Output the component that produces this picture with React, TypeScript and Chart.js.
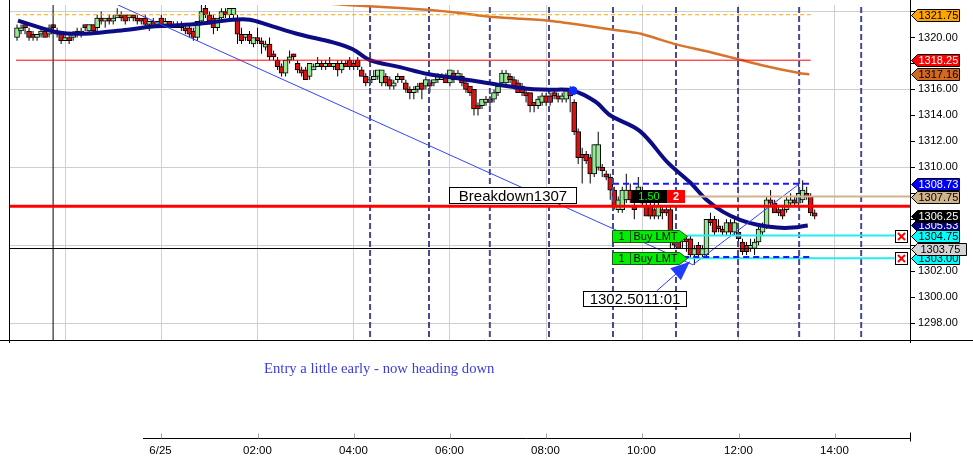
import React, { useEffect, useRef } from 'react';
import { Chart, registerables } from 'chart.js';

Chart.register(...registerables);

// ---------- axes ----------
const X_MIN = -3.146; // hours relative to 6/25 00:00
const X_MAX = 15.565;
const Y_MIN = 1296.63;
const Y_MAX = 1322.5;
const TIME_GRID = [-2, 0, 2, 4, 6, 8, 10, 12, 14];
const TIME_TICKS = [0, 2, 4, 6, 8, 10, 12, 14];
const TIME_LABELS = ['6/25', '02:00', '04:00', '06:00', '08:00', '10:00', '12:00', '14:00'];
const PRICE_TICKS = [1298, 1300, 1302, 1304, 1306, 1308, 1310, 1312, 1314, 1316, 1318, 1320, 1322];
const PRICE_LABELLED = [1298, 1300, 1302, 1304, 1306, 1308, 1310, 1312, 1314, 1316, 1318, 1320];
const PRICE_GRID = [1298, 1304, 1310, 1316, 1322];

// ---------- 5-minute candles, first bar 6/24 21:00 ----------
const FIRST_BAR_HOUR = -3;
const BAR_HOURS = 5 / 60;
const OPEN = [
  1320.0, 1320.5, 1321.0, 1320.5, 1320.25, 1320.0, 1320.25, 1320.5, 1320.25, 1321.0,
  1320.25, 1320.25, 1319.75, 1320.0, 1320.0, 1320.5, 1320.25, 1321.0, 1320.5, 1321.0,
  1320.75, 1321.5, 1321.25, 1321.5, 1321.25, 1321.5, 1321.75, 1321.75, 1321.5, 1321.75,
  1321.5, 1321.5, 1321.5, 1321.0, 1321.25, 1321.0, 1321.5, 1321.0, 1321.25, 1321.0,
  1320.75, 1321.0, 1320.75, 1320.75, 1320.5, 1320.0, 1321.25, 1322.25, 1321.75, 1321.5,
  1320.75, 1321.5, 1322.0, 1321.75, 1321.75, 1321.5, 1320.25, 1320.0, 1320.25, 1319.5,
  1320.0, 1319.75, 1319.25, 1319.5, 1318.75, 1318.25, 1317.75, 1317.25, 1318.25, 1318.75,
  1318.0, 1317.5, 1317.5, 1317.0, 1317.5, 1317.75, 1318.0, 1317.75, 1318.0, 1317.75,
  1318.0, 1317.5, 1318.0, 1318.25, 1318.0, 1318.25, 1317.5, 1317.0, 1316.5, 1316.75,
  1317.0, 1316.5, 1317.0, 1316.75, 1316.25, 1316.75, 1317.0, 1316.5, 1316.0, 1315.75,
  1316.0, 1316.5, 1316.25, 1316.5, 1316.5, 1316.75, 1316.75, 1317.0, 1316.5, 1317.25,
  1317.0, 1317.0, 1316.5, 1316.25, 1316.0, 1314.75, 1314.75, 1315.0, 1315.25, 1315.25,
  1315.75, 1316.5, 1316.5, 1317.0, 1316.75, 1316.5, 1316.25, 1315.75, 1315.75, 1315.0,
  1314.75, 1315.0, 1315.5, 1315.5, 1315.75, 1315.5, 1315.25, 1315.25, 1316.0, 1315.0,
  1312.75, 1311.0, 1311.0, 1310.75, 1309.5, 1310.0, 1310.0, 1309.5, 1309.25, 1308.25,
  1306.75, 1306.75, 1307.5, 1308.25, 1307.0, 1308.0, 1308.25, 1307.0, 1307.0, 1306.75,
  1306.25, 1306.75, 1306.75, 1306.75, 1304.75, 1304.25, 1304.25, 1304.5, 1304.5, 1303.25,
  1304.0, 1303.25, 1303.25, 1306.0, 1306.0, 1305.5, 1305.25, 1305.0, 1305.75, 1305.0,
  1305.0, 1304.25, 1304.0, 1303.75, 1303.75, 1304.25, 1305.0, 1305.5, 1307.5, 1307.25,
  1306.75, 1306.75, 1306.75, 1307.25, 1307.5, 1307.25, 1307.5, 1308.0, 1307.75, 1306.5,
];
const HIGH = [
  1321.0, 1321.0, 1321.25, 1320.75, 1320.5, 1320.25, 1320.75, 1320.75, 1321.0, 1321.0,
  1320.75, 1320.5, 1320.25, 1320.25, 1320.5, 1320.75, 1320.75, 1321.0, 1321.0, 1321.0,
  1321.75, 1322.0, 1321.5, 1321.75, 1321.75, 1322.25, 1322.0, 1321.75, 1321.75, 1321.75,
  1321.75, 1321.5, 1321.75, 1321.25, 1321.5, 1321.25, 1321.75, 1321.5, 1321.25, 1321.25,
  1321.25, 1321.25, 1321.0, 1321.0, 1320.75, 1321.25, 1322.5, 1322.5, 1322.0, 1321.75,
  1321.5, 1322.25, 1322.25, 1322.25, 1322.25, 1321.75, 1320.75, 1320.25, 1320.5, 1320.0,
  1320.75, 1320.0, 1319.75, 1320.0, 1319.0, 1318.5, 1318.0, 1318.25, 1319.0, 1318.75,
  1318.25, 1317.75, 1317.75, 1318.0, 1318.0, 1318.5, 1318.25, 1318.25, 1318.5, 1318.0,
  1318.25, 1318.25, 1318.25, 1318.5, 1318.25, 1318.5, 1317.75, 1317.25, 1317.0, 1317.5,
  1317.5, 1317.5, 1317.25, 1317.0, 1316.75, 1317.25, 1317.0, 1316.75, 1316.25, 1316.25,
  1316.5, 1316.5, 1317.0, 1316.75, 1316.75, 1317.25, 1317.25, 1317.25, 1317.5, 1317.5,
  1317.5, 1317.25, 1316.75, 1316.25, 1316.0, 1315.0, 1315.25, 1315.5, 1315.5, 1316.0,
  1316.25, 1317.5, 1317.5, 1317.25, 1317.0, 1316.75, 1316.5, 1316.0, 1315.75, 1315.0,
  1315.5, 1315.75, 1315.75, 1315.75, 1316.0, 1315.75, 1315.75, 1316.0, 1316.25, 1315.25,
  1313.0, 1311.5, 1311.25, 1311.0, 1311.75, 1312.75, 1310.25, 1309.75, 1309.5, 1308.5,
  1307.75, 1308.5, 1309.5, 1308.75, 1307.5, 1309.25, 1308.5, 1307.5, 1307.75, 1307.25,
  1307.25, 1307.0, 1307.0, 1307.0, 1305.0, 1304.5, 1304.5, 1304.75, 1304.75, 1304.0,
  1304.25, 1304.0, 1306.0, 1306.5, 1306.25, 1306.0, 1305.5, 1306.0, 1306.0, 1306.0,
  1305.25, 1304.5, 1304.25, 1304.5, 1304.5, 1305.5, 1305.75, 1307.75, 1308.25, 1307.5,
  1307.0, 1307.0, 1307.75, 1308.0, 1307.75, 1308.75, 1309.0, 1308.5, 1308.0, 1306.75,
];
const LOW = [
  1319.75, 1320.25, 1320.25, 1319.75, 1319.75, 1319.75, 1320.0, 1320.0, 1320.0, 1320.5,
  1320.0, 1319.5, 1319.75, 1319.5, 1319.75, 1320.0, 1320.0, 1320.5, 1320.25, 1320.25,
  1320.5, 1321.0, 1320.75, 1321.0, 1321.0, 1321.5, 1321.25, 1321.0, 1321.25, 1321.25,
  1321.0, 1321.0, 1320.75, 1320.5, 1321.0, 1320.75, 1320.75, 1320.75, 1320.75, 1320.75,
  1320.75, 1320.5, 1320.25, 1320.0, 1319.75, 1319.75, 1321.0, 1321.5, 1321.0, 1320.25,
  1320.5, 1321.25, 1321.5, 1321.5, 1321.5, 1319.5, 1319.5, 1319.75, 1319.5, 1319.25,
  1319.5, 1318.75, 1319.0, 1318.25, 1318.25, 1317.5, 1317.0, 1317.0, 1318.0, 1318.25,
  1317.25, 1317.0, 1316.75, 1316.75, 1317.5, 1317.75, 1317.5, 1317.5, 1317.75, 1317.5,
  1317.0, 1317.25, 1317.75, 1317.5, 1317.5, 1317.5, 1317.0, 1316.25, 1316.25, 1316.75,
  1316.75, 1316.25, 1316.25, 1316.0, 1316.0, 1316.5, 1316.5, 1315.75, 1315.25, 1315.25,
  1315.75, 1315.25, 1316.0, 1315.75, 1316.25, 1316.5, 1316.75, 1316.5, 1316.25, 1316.5,
  1316.75, 1316.25, 1315.75, 1315.5, 1314.0, 1314.0, 1314.5, 1314.75, 1314.75, 1315.0,
  1315.5, 1316.25, 1316.25, 1316.5, 1316.0, 1315.75, 1315.5, 1315.0, 1314.25, 1314.25,
  1314.5, 1314.75, 1314.75, 1314.75, 1315.25, 1315.0, 1315.0, 1315.0, 1314.25, 1312.5,
  1310.25, 1308.75, 1310.25, 1308.75, 1309.25, 1309.75, 1309.25, 1309.0, 1307.5, 1306.75,
  1306.5, 1306.5, 1307.25, 1307.25, 1306.0, 1307.5, 1307.0, 1306.25, 1306.0, 1306.0,
  1306.0, 1306.0, 1306.25, 1303.75, 1303.75, 1303.75, 1303.75, 1303.5, 1303.0, 1302.5,
  1303.0, 1303.0, 1303.0, 1305.5, 1304.75, 1305.0, 1304.75, 1304.75, 1304.75, 1304.75,
  1304.25, 1303.25, 1303.25, 1303.5, 1303.25, 1304.0, 1304.75, 1305.25, 1307.0, 1306.5,
  1306.25, 1306.0, 1306.5, 1307.0, 1307.0, 1307.0, 1307.25, 1307.5, 1306.25, 1306.0,
];
const CLOSE = [
  1320.75, 1320.75, 1320.75, 1320.0, 1320.0, 1320.25, 1320.5, 1320.0, 1320.75, 1320.75,
  1320.5, 1319.75, 1320.0, 1319.75, 1320.25, 1320.25, 1320.5, 1320.75, 1321.0, 1320.5,
  1321.5, 1321.25, 1321.5, 1321.25, 1321.5, 1321.75, 1321.5, 1321.25, 1321.75, 1321.5,
  1321.25, 1321.25, 1321.0, 1321.25, 1321.0, 1321.25, 1321.0, 1321.25, 1321.0, 1320.75,
  1321.0, 1320.75, 1320.5, 1320.25, 1320.0, 1321.25, 1322.0, 1321.75, 1321.25, 1320.75,
  1321.5, 1322.0, 1321.75, 1322.25, 1322.25, 1320.25, 1319.75, 1320.25, 1319.75, 1320.0,
  1319.75, 1319.5, 1319.5, 1318.5, 1318.5, 1317.75, 1317.25, 1318.25, 1318.5, 1318.5,
  1317.5, 1317.25, 1316.75, 1318.0, 1317.75, 1318.0, 1317.75, 1318.0, 1317.75, 1318.0,
  1317.5, 1318.0, 1317.75, 1317.75, 1317.75, 1317.75, 1317.0, 1316.5, 1316.75, 1317.0,
  1317.5, 1317.5, 1316.5, 1316.25, 1316.5, 1317.0, 1316.75, 1316.0, 1315.75, 1316.0,
  1316.25, 1316.0, 1316.75, 1316.25, 1316.75, 1317.0, 1317.0, 1316.5, 1317.5, 1316.75,
  1317.25, 1316.5, 1316.0, 1315.75, 1314.5, 1314.5, 1315.25, 1315.25, 1315.0, 1315.75,
  1316.25, 1317.25, 1317.25, 1316.75, 1316.25, 1315.75, 1315.75, 1315.5, 1314.75, 1314.75,
  1315.25, 1315.5, 1315.0, 1315.0, 1315.5, 1315.25, 1315.5, 1316.0, 1315.5, 1312.75,
  1310.75, 1310.75, 1310.5, 1309.5, 1311.75, 1311.75, 1309.75, 1309.25, 1308.25, 1307.0,
  1307.5, 1308.25, 1308.25, 1307.5, 1306.75, 1308.5, 1307.25, 1306.25, 1306.25, 1306.25,
  1307.0, 1306.5, 1306.5, 1305.0, 1304.0, 1303.75, 1304.5, 1304.25, 1303.25, 1303.75,
  1303.25, 1303.75, 1306.0, 1305.75, 1305.0, 1305.25, 1305.0, 1305.75, 1305.0, 1305.75,
  1304.5, 1303.5, 1303.5, 1304.0, 1304.25, 1305.25, 1305.5, 1307.5, 1307.25, 1306.5,
  1306.5, 1306.25, 1307.5, 1307.5, 1307.25, 1308.0, 1308.25, 1307.75, 1306.5, 1306.25,
];

// ---------- moving averages ----------
const FAST_MA_T = [-2.98, -2.52, -2.25, -1.96, -1.48, -1.06, -0.65, -0.23, 0.18, 0.8, 1.49, 1.84, 2.2, 2.88, 3.57, 3.98, 4.34, 4.96, 5.54, 6.25, 6.88, 7.62, 8.06, 8.56, 9.02, 9.33, 9.95, 10.53, 10.99, 11.34, 11.68, 12.03, 12.39, 12.8, 13.13, 13.44];
const FAST_MA_P = [1321.29, 1320.76, 1320.46, 1320.3, 1320.3, 1320.46, 1320.61, 1320.83, 1320.91, 1321.06, 1321.37, 1321.37, 1320.99, 1320.23, 1319.62, 1319.09, 1318.25, 1317.72, 1317.19, 1316.81, 1316.43, 1316.05, 1315.98, 1315.9, 1315.07, 1314.01, 1312.79, 1310.36, 1308.85, 1307.48, 1306.57, 1305.96, 1305.58, 1305.36, 1305.36, 1305.53];
const SLOW_MA_T = [3.5, 3.86, 4.96, 5.59, 6.21, 6.83, 7.46, 8.06, 8.7, 9.39, 9.95, 10.7, 11.34, 11.99, 12.65, 13.26, 13.47];
const SLOW_MA_P = [1322.6, 1322.5, 1322.27, 1322.12, 1321.89, 1321.59, 1321.44, 1321.29, 1320.98, 1320.6, 1320.3, 1319.47, 1318.94, 1318.33, 1317.72, 1317.27, 1317.16];
const MA_DOT_T = [8.56];
const MA_DOT_P = [1315.9];

// ---------- drawn objects ----------
const TREND_T = [-0.9, 11.05, 13.27];
const TREND_P = [1322.5, 1302.5, 1308.75];
const CYCLE_TIMES = [4.34, 5.565, 6.83, 8.06, 9.39, 10.7, 11.99, 13.26, 14.55];
const CROSSHAIR_T = -2.25;
const CROSSHAIR_P = 1303.75;
const LEVEL_PRICES = [1321.75, 1318.25, 1307.0, 1307.75, 1303.75, 1308.73, 1303.1, 1304.75, 1303.0];
const LEVEL_FROM = [-3.02, -3.02, X_MIN, 10.87, X_MIN, 9.39, 10.85, 10.93, 10.93];
const LEVEL_TO = [13.5, 13.5, X_MAX, X_MAX, X_MAX, 13.49, 13.49, 15.25, 15.25];
const LEVEL_STYLE = [
  { c: '#ffa500', w: 1, d: [4, 3] },
  { c: '#ff0000', w: 1, d: [] },
  { c: '#ff0000', w: 3, d: [] },
  { c: '#d2b48c', w: 2, d: [] },
  { c: '#000000', w: 1, d: [] },
  { c: '#1a1aff', w: 2, d: [6, 4] },
  { c: '#1a1aff', w: 2, d: [6, 4] },
  { c: '#22eef0', w: 2, d: [] },
  { c: '#22eef0', w: 2, d: [] },
];
const ORDER_PRICES = [1304.75, 1303.0];
const ORDER_T = 9.37;
const ORDER_END_T = 15.25;
const POSITION_T = 9.765;
const POSITION_P = 1307.75;
const BREAKDOWN_T = 8.62;
const BREAKDOWN_P = 1307.0;
const LOW_T = 11.05;
const LOW_P = 1302.5;
const MARKER_PRICES = [1321.75, 1318.25, 1317.16, 1308.73, 1307.75, 1305.53, 1306.25, 1304.75, 1303.0, 1303.75];
const MARKER_FILL = ['#ffa500', '#ff0000', '#d2691e', '#0000ff', '#d2b48c', '#000080', '#000000', '#00ffff', '#00ffff', '#d3d3d3'];
const MARKER_TEXT = ['#000', '#fff', '#000', '#fff', '#000', '#fff', '#fff', '#000', '#000', '#000'];
const NOTE = 'Entry a little early - now heading down';

const SANS = 'Arial, "Liberation Sans", sans-serif';

function seg(ctx: any, x1: number, y1: number, x2: number, y2: number) {
  ctx.beginPath();
  ctx.moveTo(x1, y1);
  ctx.lineTo(x2, y2);
  ctx.stroke();
}

const decorPlugin = {
  id: 'decor',
  beforeDraw(chart: any) {
    const { ctx, width, height } = chart;
    ctx.save();
    ctx.fillStyle = '#ffffff';
    ctx.fillRect(0, 0, width, height);
    ctx.restore();
  },
  afterDraw(chart: any) {
    const { ctx, chartArea: a, width } = chart;
    const xs = chart.scales.x;
    const ys = chart.scales.y;
    const X = (t: number) => xs.getPixelForValue(t);
    const Y = (p: number) => ys.getPixelForValue(p);
    ctx.save();
    ctx.lineWidth = 1;
    ctx.strokeStyle = '#000';
    ctx.setLineDash([]);
    // frame
    seg(ctx, Math.round(a.left) - 0.5, 0, Math.round(a.left) - 0.5, a.bottom + 2);
    seg(ctx, Math.round(a.right) + 0.5, 0, Math.round(a.right) + 0.5, a.bottom + 2);
    seg(ctx, 0, Math.round(a.bottom) - 0.5, width, Math.round(a.bottom) - 0.5);

    // Breakdown label
    ctx.font = '15px ' + SANS;
    ctx.textBaseline = 'middle';
    ctx.textAlign = 'center';
    {
      const r = Math.round(X(BREAKDOWN_T)) + 0.5;
      const b = Math.round(Y(BREAKDOWN_P)) - 2.5;
      const w = 127, h = 16;
      ctx.fillStyle = '#fff';
      ctx.fillRect(r - w, b - h, w, h);
      ctx.strokeStyle = '#000';
      ctx.strokeRect(r - w, b - h, w, h);
      ctx.fillStyle = '#000';
      ctx.fillText('Breakdown1307', r - w / 2, b - h / 2 + 1);
    }

    // Position marker 1.50 | 2
    {
      const x0 = Math.round(X(POSITION_T));
      const yc = Y(POSITION_P);
      const top = Math.round(yc - 6.5);
      ctx.fillStyle = '#000';
      ctx.fillRect(x0, top, 36, 13);
      ctx.fillStyle = '#ff0000';
      ctx.fillRect(x0 + 36, top, 18, 13);
      ctx.font = '11px ' + SANS;
      ctx.fillStyle = '#00ff00';
      ctx.fillText('1.50', x0 + 18, top + 7);
      ctx.fillStyle = '#fff';
      ctx.font = 'bold 11px ' + SANS;
      ctx.fillText('2', x0 + 45, top + 7);
    }

    // Buy LMT order markers, cyan lines end boxes
    ORDER_PRICES.forEach((p) => {
      const x0 = Math.round(X(ORDER_T)) + 0.5;
      const yc = Math.round(Y(p)) + 0.5;
      ctx.beginPath();
      ctx.moveTo(x0, yc - 6);
      ctx.lineTo(x0 + 67, yc - 6);
      ctx.lineTo(x0 + 75, yc);
      ctx.lineTo(x0 + 67, yc + 6);
      ctx.lineTo(x0, yc + 6);
      ctx.closePath();
      ctx.fillStyle = '#00ee00';
      ctx.fill();
      ctx.strokeStyle = '#1a5a1a';
      ctx.stroke();
      seg(ctx, x0 + 18, yc - 6, x0 + 18, yc + 6);
      ctx.fillStyle = '#000';
      ctx.font = '11px ' + SANS;
      ctx.textAlign = 'center';
      ctx.fillText('1', x0 + 9, yc + 0.5);
      ctx.textAlign = 'left';
      ctx.fillText('Buy LMT', x0 + 21, yc + 0.5);
      // red X box
      const bx = Math.round(X(ORDER_END_T)) + 0.5;
      ctx.fillStyle = '#fff';
      ctx.fillRect(bx, yc - 6, 12, 12);
      ctx.strokeStyle = '#000';
      ctx.strokeRect(bx, yc - 6, 12, 12);
      ctx.strokeStyle = '#ff0000';
      ctx.lineWidth = 2;
      seg(ctx, bx + 2.5, yc - 3.5, bx + 9.5, yc + 3.5);
      seg(ctx, bx + 9.5, yc - 3.5, bx + 2.5, yc + 3.5);
      ctx.lineWidth = 1;
    });

    // Low label with arrow
    {
      const vx = X(LOW_T);
      const vy = Y(LOW_P);
      const bx = Math.round(vx - 110) + 0.5;
      const by = Math.round(vy + 26) + 0.5;
      ctx.fillStyle = '#fff';
      ctx.fillRect(bx, by, 103, 15);
      ctx.strokeStyle = '#000';
      ctx.strokeRect(bx, by, 103, 15);
      ctx.fillStyle = '#000';
      ctx.font = '15px ' + SANS;
      ctx.textAlign = 'center';
      ctx.fillText('1302.5011:01', bx + 51.5, by + 8);
      const sx = vx - 36, sy = vy + 26;
      const tx = vx - 3, ty = vy - 3;
      ctx.strokeStyle = '#2a3cff';
      seg(ctx, sx, sy, tx, ty);
      const L = Math.hypot(tx - sx, ty - sy);
      const ux = (tx - sx) / L, uy = (ty - sy) / L;
      const cx = tx - ux * 19, cy = ty - uy * 19;
      ctx.beginPath();
      ctx.moveTo(tx, ty);
      ctx.lineTo(cx - uy * 8, cy + ux * 8);
      ctx.lineTo(cx + uy * 8, cy - ux * 8);
      ctx.closePath();
      ctx.fillStyle = '#1f3cff';
      ctx.fill();
    }

    // right-hand price markers
    ctx.font = '11px ' + SANS;
    ctx.textAlign = 'left';
    MARKER_PRICES.forEach((p, i) => {
      const yc = Math.round(Y(p)) + 0.5;
      const x0 = Math.round(a.right) + 1.5;
      const wide = p === CROSSHAIR_P;
      const right = wide ? x0 + 55 : x0 + 48;
      ctx.beginPath();
      ctx.moveTo(x0, yc);
      ctx.lineTo(x0 + 6, yc - 6);
      ctx.lineTo(right, yc - 6);
      ctx.lineTo(right, yc + 6);
      ctx.lineTo(x0 + 6, yc + 6);
      ctx.closePath();
      ctx.fillStyle = MARKER_FILL[i];
      ctx.fill();
      ctx.strokeStyle = '#000';
      ctx.stroke();
      ctx.fillStyle = MARKER_TEXT[i];
      ctx.fillText(p.toFixed(2), x0 + (wide ? 9 : 7), yc + 0.5);
    });

    // lower time axis
    const axisY = 438.5;
    ctx.strokeStyle = '#000';
    seg(ctx, 143, axisY, Math.round(a.right) + 0.5, axisY);
    seg(ctx, Math.round(a.right) + 0.5, axisY - 6, Math.round(a.right) + 0.5, axisY + 3);
    ctx.font = '11.5px ' + SANS;
    ctx.textAlign = 'center';
    ctx.fillStyle = '#000';
    TIME_TICKS.forEach((t, i) => {
      const x = Math.round(X(t)) + 0.5;
      ctx.strokeStyle = '#a0a0a0';
      seg(ctx, x, axisY - 5, x, axisY);
      ctx.fillText(TIME_LABELS[i], x - 1, 451);
    });

    // note
    ctx.font = '14.7px "Liberation Serif", "Times New Roman", serif';
    ctx.textAlign = 'left';
    ctx.fillStyle = '#3c3cdc';
    ctx.fillText(NOTE, 264, 369);
    ctx.restore();
  },
};

export default function App() {
  const ref = useRef<HTMLCanvasElement>(null);
  useEffect(() => {
    const canvas = ref.current;
    if (!canvas) return;
    const times = OPEN.map((_, i) => FIRST_BAR_HOUR + i * BAR_HOURS);
    const datasets: any[] = [];

    const lineDs = (data: any[], color: string, w: number, dash: number[], order: number, tension = 0) => ({
      type: 'line',
      data,
      borderColor: color,
      borderWidth: w,
      borderDash: dash,
      pointRadius: 0,
      fill: false,
      tension,
      order,
      clip: 0,
    });

    // levels
    LEVEL_PRICES.forEach((p, i) => {
      const s = LEVEL_STYLE[i];
      datasets.push(lineDs([{ x: LEVEL_FROM[i], y: p }, { x: LEVEL_TO[i], y: p }], s.c, s.w, s.d, 1));
    });
    // cycle verticals
    CYCLE_TIMES.forEach((t) => {
      datasets.push(lineDs([{ x: t, y: Y_MIN + 0.3 }, { x: t, y: Y_MAX }], '#48488f', 2, [6, 3], 3));
    });
    // crosshair vertical
    datasets.push(lineDs([{ x: CROSSHAIR_T, y: Y_MIN - 1 }, { x: CROSSHAIR_T, y: Y_MAX }], '#000', 1, [], 3));
    // trend line
    datasets.push(lineDs(TREND_T.map((t, i) => ({ x: t, y: TREND_P[i] })), '#3344ff', 1, [], 2));
    // MAs
    datasets.push(lineDs(SLOW_MA_T.map((t, i) => ({ x: t, y: SLOW_MA_P[i] })), '#d8732c', 2.5, [], 2, 0.15));
    datasets.push(lineDs(FAST_MA_T.map((t, i) => ({ x: t, y: FAST_MA_P[i] })), '#0c0c84', 4, [], 2, 0.35));
    datasets.push({
      type: 'line',
      data: MA_DOT_T.map((t, i) => ({ x: t, y: MA_DOT_P[i] })),
      showLine: false,
      pointRadius: 4,
      pointBackgroundColor: '#0a2cff',
      pointBorderColor: '#0a2cff',
      order: 0,
    });
    // candles
    datasets.push({
      type: 'bar',
      data: OPEN.map((o, i) => ({ x: times[i], y: [Math.min(o, CLOSE[i]), Math.max(o, CLOSE[i])] })),
      backgroundColor: OPEN.map((o, i) => (CLOSE[i] >= o ? '#96e896' : '#d41414')),
      borderColor: '#000',
      borderWidth: 1,
      borderSkipped: false,
      barThickness: 5,
      grouped: false,
      order: 10,
    });
    datasets.push({
      type: 'bar',
      data: HIGH.map((h, i) => ({ x: times[i], y: [LOW[i], h] })),
      backgroundColor: '#000',
      borderWidth: 0,
      barThickness: 1,
      inflateAmount: 0,
      grouped: false,
      order: 11,
    });

    const chart = new Chart(canvas, {
      type: 'bar',
      data: { datasets },
      plugins: [decorPlugin],
      options: {
        responsive: false,
        animation: false,
        devicePixelRatio: 1,
        layout: { padding: { left: 10, top: 0, right: 0, bottom: 122 } },
        plugins: { legend: { display: false }, tooltip: { enabled: false } },
        scales: {
          x: {
            type: 'linear',
            min: X_MIN,
            max: X_MAX,
            offset: false,
            afterBuildTicks: (s: any) => { s.ticks = TIME_GRID.map((v) => ({ value: v })); },
            afterFit: (s: any) => { s.height = 0; s.paddingLeft = 0; s.paddingRight = 0; },
            ticks: { display: false },
            grid: { color: '#cfcfcf', drawTicks: false, offset: false },
            border: { display: false },
          },
          y: {
            type: 'linear',
            position: 'right',
            min: Y_MIN,
            max: Y_MAX,
            afterBuildTicks: (s: any) => { s.ticks = PRICE_TICKS.map((v) => ({ value: v })); },
            afterFit: (s: any) => { s.width = 63; s.paddingTop = 0; s.paddingBottom = 0; },
            ticks: {
              font: { size: 11, family: SANS },
              color: '#000',
              padding: 3,
              callback: (v: any) => (PRICE_LABELLED.includes(Number(v)) ? Number(v).toFixed(2) : ''),
            },
            grid: {
              color: (c: any) => (c.tick && PRICE_GRID.includes(c.tick.value) ? '#cfcfcf' : 'rgba(0,0,0,0)'),
              tickColor: '#000',
              tickLength: 5,
            },
            border: { display: false },
          },
        },
      } as any,
    } as any);
    return () => chart.destroy();
  }, []);
  return (
    <div style={{ position: 'fixed', left: 0, top: 0, width: 973, height: 463, background: '#fff' }}>
      <canvas ref={ref} width={973} height={463} style={{ display: 'block', width: 973, height: 463 }} />
    </div>
  );
}
